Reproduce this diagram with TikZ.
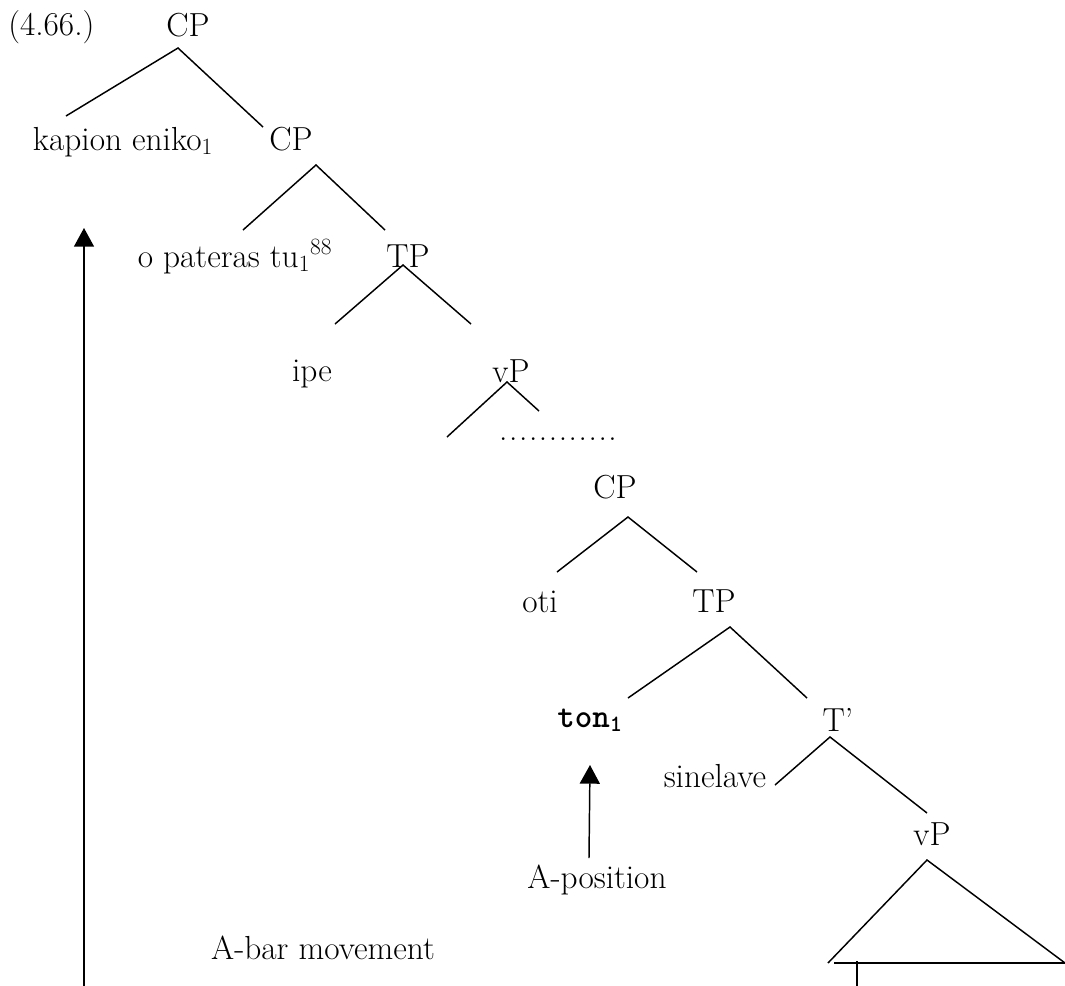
\documentclass[tikz,border=0pt]{standalone}
\usepackage{fontspec}
\newfontfamily\tonfont{lmmonolt10-bold.otf}
\usetikzlibrary{arrows.meta}
\tikzset{
  lbl/.style={inner sep=0pt, anchor=base},
  edge/.style={line width=1.1pt},
  mover/.style={line width=1.1pt, -{Triangle[length=14pt,width=15pt]}}
}
\newcommand{\dt}{.\kern1.2pt}
\begin{document}
\begin{tikzpicture}[x=0.75pt,y=-0.75pt,font=\fontsize{25}{30}\selectfont]
\useasboundingbox (0,0) rectangle (1065,986);
% labels
\node[lbl, anchor=base west] (ex) at (8,35) {(4.66.)};
\node[lbl] (cp1) at (188,36) {CP};
\node[lbl] (kap) at (123,150) {kapion eniko\textsubscript{1}};
\node[lbl] (cp2) at (291,150) {CP};
\node[lbl] (pat) at (235,267) {o pateras tu\textsubscript{1}\textsuperscript{88}};
\node[lbl] (tp1) at (408,267) {TP};
\node[lbl] (ipe) at (312,381) {ipe};
\node[lbl] (vp1) at (511,382) {vP};
\node[lbl] (dots) at (558,440) {\dt\dt\dt\dt\dt\dt\dt\dt\dt\dt\dt.};
\node[lbl] (cp3) at (615,498) {CP};
\node[lbl] (oti) at (540,612) {oti};
\node[lbl] (tp2) at (714,612) {TP};
\node[lbl] (ton) at (590,727) {\tonfont ton\textsubscript{1}};
\node[lbl] (tbar) at (838,731) {T'};
\node[lbl] (sin) at (715,787) {sinelave};
\node[lbl] (vp2) at (932,845) {vP};
\node[lbl] (apos) at (597,888) {A-position};
\node[lbl] (abar) at (323,959) {A-bar movement};
% branch points
\coordinate (a1) at (178,48);  \coordinate (a1l) at (66,116);  \coordinate (a1r) at (263,127);
\coordinate (a2) at (316,165); \coordinate (a2l) at (243,230); \coordinate (a2r) at (385,230);
\coordinate (a3) at (403,265); \coordinate (a3l) at (335,324); \coordinate (a3r) at (471,324);
\coordinate (a4) at (507,382); \coordinate (a4l) at (447,437); \coordinate (a4r) at (539,411);
\coordinate (a5) at (628,517); \coordinate (a5l) at (557,572); \coordinate (a5r) at (697,572);
\coordinate (a6) at (730,627); \coordinate (a6l) at (628,698); \coordinate (a6r) at (807,698);
\coordinate (a7) at (830,737); \coordinate (a7l) at (775,785); \coordinate (a7r) at (927,813);
\coordinate (tri) at (927,860); \coordinate (tril) at (828,963); \coordinate (trir) at (1065,963);
\coordinate (trib) at (834,963);
\coordinate (tick1) at (857,961); \coordinate (tick2) at (857,986);
\coordinate (bigfoot) at (84,986); \coordinate (bigtip) at (84,228);
\coordinate (smfoot) at (589,858); \coordinate (smtip) at (590,765);
% edges
\draw[edge] (a1l) -- (a1) -- (a1r);
\draw[edge] (a2l) -- (a2) -- (a2r);
\draw[edge] (a3l) -- (a3) -- (a3r);
\draw[edge] (a4l) -- (a4) -- (a4r);
\draw[edge] (a5l) -- (a5) -- (a5r);
\draw[edge] (a6l) -- (a6) -- (a6r);
\draw[edge] (a7l) -- (a7) -- (a7r);
\draw[edge] (tril) -- (tri) -- (trir);
\draw[edge] (trib) -- (trir);
\draw[edge] (tick1) -- (tick2);
% movement arrows
\draw[mover] (bigfoot) -- (bigtip);
\draw[mover] (smfoot) -- (smtip);
\end{tikzpicture}
\end{document}
